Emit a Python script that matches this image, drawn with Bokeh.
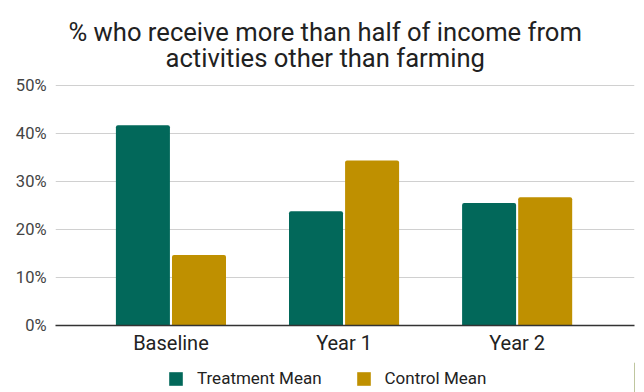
from bokeh.plotting import figure
from bokeh.layouts import column
from bokeh.models import (ColumnDataSource, Range1d, FixedTicker, NumeralTickFormatter,
                          Legend, LegendItem, Label)
from bokeh.embed import file_html
from bokeh.resources import INLINE

categories = ["Baseline", "Year 1", "Year 2"]
treatment_mean = [0.417, 0.238, 0.255]
control_mean = [0.147, 0.344, 0.267]
y_ticks = [0, 0.1, 0.2, 0.3, 0.4, 0.5]
series_names = ["Treatment Mean", "Control Mean"]
title_lines = ["% who receive more than half of income from", "activities other than farming"]

T_COLOR = "#02685A"
C_COLOR = "#BF9000"
FONT = "Roboto"

# layout geometry (pixels)
FRAME_W, FRAME_H = 579, 325          # frame spans from top of page to the 0% line
PX_PER_UNIT_Y = 240 / 0.5            # 0%..50% over 240 px
X_START, X_END = -0.667, 2.678
PX_PER_UNIT_X = FRAME_W / (X_END - X_START)

xpos = list(range(len(categories)))
src = ColumnDataSource(dict(
    xt=[x - 0.162 for x in xpos],
    xc=[x + 0.162 for x in xpos],
    t=treatment_mean,
    c=control_mean,
))

p = figure(frame_width=FRAME_W, frame_height=FRAME_H, output_backend="svg",
           toolbar_location=None, title_location=None,
           x_range=Range1d(X_START, X_END), y_range=Range1d(0, FRAME_H / PX_PER_UNIT_Y),
           min_border_left=55, min_border_right=10, min_border_top=0, min_border_bottom=37)
p.outline_line_color = None
p.background_fill_color = "white"
p.border_fill_color = "white"

p.vbar(x="xt", top="t", width=0.312, bottom=0, source=src, fill_color=T_COLOR,
       line_color=None, border_radius=(2, 2, 0, 0))
p.vbar(x="xc", top="c", width=0.312, bottom=0, source=src, fill_color=C_COLOR,
       line_color=None, border_radius=(2, 2, 0, 0))

# title (two centred lines); baselines at 31.7 px and 57.3 px from the top
title_cx = X_START + (324.7 - 55) / PX_PER_UNIT_X
for line, base_px in zip(title_lines, [31.7, 57.3]):
    p.add_layout(Label(x=title_cx, y=(FRAME_H - base_px) / PX_PER_UNIT_Y, text=line,
                       text_align="center", text_baseline="alphabetic",
                       text_font=FONT, text_font_size="25.6px", text_color="#212121"))

# y axis
p.yaxis.ticker = FixedTicker(ticks=y_ticks)
p.yaxis.formatter = NumeralTickFormatter(format="0%")
p.yaxis.axis_line_color = None
p.yaxis.major_tick_line_color = None
p.yaxis.minor_tick_line_color = None
p.yaxis.major_tick_out = 0
p.yaxis.major_tick_in = 0
p.yaxis.major_label_text_font = FONT
p.yaxis.major_label_text_font_size = "16.5px"
p.yaxis.major_label_text_color = "#444444"
p.yaxis.major_label_standoff = 9

# x axis
p.xaxis.ticker = FixedTicker(ticks=xpos)
p.xaxis.major_label_overrides = {i: c for i, c in enumerate(categories)}
p.xaxis.axis_line_color = "#333333"
p.xaxis.axis_line_width = 1.3
p.xaxis.major_tick_line_color = None
p.xaxis.minor_tick_line_color = None
p.xaxis.major_tick_out = 0
p.xaxis.major_tick_in = 0
p.xaxis.major_label_text_font = FONT
p.xaxis.major_label_text_font_size = "20px"
p.xaxis.major_label_text_color = "#222222"
p.xaxis.major_label_standoff = 5

p.xgrid.grid_line_color = None
p.ygrid.grid_line_color = "#D0D0D0"
p.ygrid.grid_line_width = 1.2

# legend strip
lg = figure(width=644, height=30, output_backend="svg", toolbar_location=None,
            x_range=Range1d(0, 1), y_range=Range1d(0, 1),
            x_axis_location=None, y_axis_location=None,
            min_border_left=0, min_border_right=0, min_border_top=0, min_border_bottom=0)
lg.grid.visible = False
lg.outline_line_color = None
lg.border_fill_color = "white"
lr_t = lg.vbar(x=[5], top=[1], width=0.1, fill_color=T_COLOR, line_color=None)
lr_c = lg.vbar(x=[5], top=[1], width=0.1, fill_color=C_COLOR, line_color=None)
legend = Legend(items=[LegendItem(label=series_names[0], renderers=[lr_t]),
                       LegendItem(label=series_names[1], renderers=[lr_c])],
                orientation="horizontal", location=(112, 4),
                label_text_font=FONT, label_text_font_size="17px",
                label_text_color="#222222", glyph_width=17, glyph_height=17,
                label_standoff=13, spacing=33, padding=2, margin=0,
                border_line_color=None, background_fill_alpha=0)
lg.add_layout(legend)

layout = column(p, lg, spacing=0)
open("out.html", "w").write(file_html(layout, INLINE))
